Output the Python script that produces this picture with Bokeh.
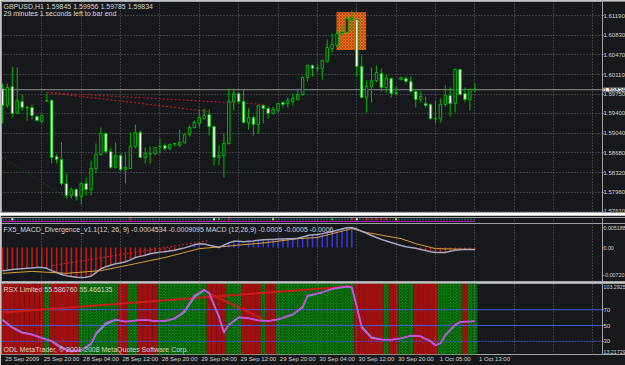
from bokeh.plotting import figure
from bokeh.layouts import column
from bokeh.models import (Range1d, FixedTicker, Span, Label, NumeralTickFormatter,
                          ColumnDataSource, Grid, BoxAnnotation)
from bokeh.embed import file_html
from bokeh.resources import INLINE

# ---------------- data ----------------
header_text = "GBPUSD,H1  1.59845 1.59956 1.59785 1.59834"
header_text2 = "29 minutes 1 seconds left to bar end"
macd_title = "FX5_MACD_Divergence_v1.1(12, 26, 9) -0.0004534 -0.0009095   MACD (12,26,9) -0.0005 -0.0005 -0.0006"
rsi_title = "RSX Limited 55.586760 55.466135"
copyright_text = "ODL MetaTrader, \u00a9 2001-2008 MetaQuotes Software Corp."

time_labels = ["25 Sep 2009", "25 Sep 20:00", "28 Sep 04:00", "28 Sep 12:00", "28 Sep 20:00",
               "29 Sep 04:00", "29 Sep 12:00", "29 Sep 20:00", "30 Sep 04:00", "30 Sep 12:00",
               "30 Sep 20:00", "1 Oct 05:00", "1 Oct 13:00"]

opens = [1.59856, 1.59545, 1.59892, 1.59399, 1.59618, 1.59509, 1.59509, 1.59344, 1.59253, 1.59637,
         1.59637, 1.58613, 1.58558, 1.58120, 1.57901, 1.58010, 1.57882, 1.58120, 1.58010, 1.58394,
         1.58650, 1.59034, 1.58705, 1.58412, 1.58632, 1.58376, 1.58394, 1.58796, 1.59052, 1.58595,
         1.58668, 1.58668, 1.58796, 1.58814, 1.58760, 1.58851, 1.58814, 1.58869, 1.59015, 1.59143,
         1.59216, 1.59308, 1.59381, 1.59162, 1.58595, 1.58632, 1.58851, 1.59618, 1.59765, 1.59618,
         1.59235, 1.59326, 1.59198, 1.59545, 1.59490, 1.59399, 1.59454, 1.59600, 1.59582, 1.59618,
         1.59655, 1.59746, 1.60057, 1.60276, 1.60221, 1.60221, 1.60349, 1.60587, 1.60642, 1.60861,
         1.60879, 1.61117, 1.61117, 1.60258, 1.59691, 1.59892, 1.60002, 1.60130, 1.59874, 1.60039,
         1.59765, 1.60020, 1.60039, 1.59984, 1.59801, 1.59655, 1.59582, 1.59564, 1.59308, 1.59308,
         1.59564, 1.59728, 1.59582, 1.60203, 1.59765, 1.59655, 1.59845]
highs = [1.59947, 1.59947, 1.60258, 1.60240, 1.59746, 1.59545, 1.59564, 1.59362, 1.59399, 1.59765,
         1.59655, 1.58650, 1.58869, 1.58303, 1.58046, 1.58028, 1.58138, 1.58230, 1.58540, 1.58851,
         1.59143, 1.59052, 1.58778, 1.58869, 1.58668, 1.58668, 1.59052, 1.59198, 1.59088, 1.58778,
         1.58796, 1.58778, 1.58942, 1.58851, 1.58851, 1.58869, 1.59107, 1.59034, 1.59180, 1.59271,
         1.59472, 1.59490, 1.59472, 1.59180, 1.58814, 1.59034, 1.59856, 1.59856, 1.59783, 1.59838,
         1.59490, 1.59362, 1.59545, 1.59564, 1.59527, 1.59527, 1.59582, 1.59618, 1.59691, 1.59765,
         1.59856, 1.60075, 1.60294, 1.60294, 1.60312, 1.60386, 1.60751, 1.60861, 1.60952, 1.61007,
         1.61190, 1.61281, 1.61135, 1.60459, 1.60002, 1.60240, 1.60276, 1.60221, 1.60120, 1.60057,
         1.59892, 1.60075, 1.60075, 1.60075, 1.59838, 1.59801, 1.59710, 1.59582, 1.59637, 1.59673,
         1.59911, 1.59874, 1.60221, 1.60221, 1.59874, 1.59856, 1.59956]
lows = [1.59216, 1.59509, 1.59326, 1.59399, 1.59454, 1.59271, 1.59289, 1.59253, 1.59216, 1.59618,
        1.58485, 1.58485, 1.58083, 1.57846, 1.57846, 1.57809, 1.57736, 1.57901, 1.57901, 1.58303,
        1.58632, 1.58668, 1.58394, 1.58394, 1.58339, 1.58120, 1.58394, 1.58760, 1.58577, 1.58485,
        1.58485, 1.58632, 1.58668, 1.58723, 1.58723, 1.58796, 1.58796, 1.58851, 1.58979, 1.59125,
        1.59143, 1.59289, 1.58997, 1.58449, 1.58449, 1.58230, 1.58833, 1.59454, 1.59582, 1.59216,
        1.59107, 1.58997, 1.59034, 1.59216, 1.59308, 1.59381, 1.59417, 1.59509, 1.59509, 1.59545,
        1.59637, 1.59728, 1.59984, 1.60075, 1.60148, 1.60020, 1.60331, 1.60514, 1.60605, 1.60825,
        1.60861, 1.60916, 1.60075, 1.59691, 1.59417, 1.59600, 1.59966, 1.59801, 1.59783, 1.59691,
        1.59746, 1.60002, 1.59947, 1.59783, 1.59509, 1.59600, 1.59509, 1.59289, 1.59216, 1.59235,
        1.59527, 1.59344, 1.59417, 1.59728, 1.59600, 1.59454, 1.59785]
closes = [1.59545, 1.59874, 1.59399, 1.59637, 1.59509, 1.59500, 1.59362, 1.59271, 1.59362, 1.59628,
          1.58595, 1.58558, 1.58120, 1.57901, 1.58010, 1.57882, 1.58120, 1.58010, 1.58394, 1.58650,
          1.59034, 1.58705, 1.58412, 1.58632, 1.58376, 1.58412, 1.58796, 1.59052, 1.58595, 1.58668,
          1.58660, 1.58778, 1.58790, 1.58760, 1.58833, 1.58845, 1.58869, 1.59015, 1.59143, 1.59235,
          1.59326, 1.59362, 1.59162, 1.58595, 1.58632, 1.58851, 1.59618, 1.59765, 1.59618, 1.59235,
          1.59326, 1.59198, 1.59545, 1.59490, 1.59399, 1.59472, 1.59582, 1.59564, 1.59637, 1.59673,
          1.59746, 1.60057, 1.60276, 1.60221, 1.60230, 1.60368, 1.60605, 1.60660, 1.60861, 1.60898,
          1.61135, 1.61153, 1.60258, 1.59691, 1.59892, 1.60002, 1.60148, 1.59874, 1.60039, 1.59765,
          1.59783, 1.60057, 1.59984, 1.59801, 1.59655, 1.59710, 1.59545, 1.59308, 1.59300, 1.59564,
          1.59728, 1.59582, 1.60203, 1.59746, 1.59655, 1.59838, 1.59834]

price_ticks = [1.6119, 1.6083, 1.6047, 1.6011, 1.5975, 1.5940, 1.5904, 1.5868, 1.5832, 1.5796, 1.5761]
last_price = 1.59834

# user objects on the price chart
box_x = [67.9, 73.9]
box_price = [1.6056, 1.6125]
trend1_x = [9, 42]
trend1_p = [1.59783, 1.59436]
trend2_x = [9, 53]
trend2_p = [1.59783, 1.59564]
trend3_x = [0, 13]
trend3_p = [1.58595, 1.57864]

# FX5 MACD divergence (one value per bar)
macd = [-0.0060, -0.0059, -0.0057, -0.0056, -0.0055, -0.0054, -0.0053, -0.0052, -0.0052, -0.0054,
        -0.0060, -0.0065, -0.0070, -0.0073, -0.0075, -0.0077, -0.0078, -0.0077, -0.0074, -0.0065,
        -0.0055, -0.0050, -0.0046, -0.0042, -0.0040, -0.0037, -0.0032, -0.0026, -0.0023, -0.0020,
        -0.0016, -0.0014, -0.0012, -0.0011, -0.0009, -0.0007, -0.0004, -0.0001, 0.0003, 0.0007,
        0.0010, 0.0009, 0.0006, 0.0003, 0.0000, 0.0006, 0.0012, 0.0016, 0.0016, 0.0015,
        0.0016, 0.0017, 0.0019, 0.0020, 0.0021, 0.0021, 0.0022, 0.0022, 0.0023, 0.0023,
        0.0024, 0.0027, 0.0031, 0.0033, 0.0034, 0.0036, 0.0039, 0.0041, 0.0045, 0.0048,
        0.0051, 0.0052, 0.0048, 0.0042, 0.0037, 0.0031, 0.0026, 0.0021, 0.0017, 0.0013,
        0.0009, 0.0005, 0.0002, 0.0000, -0.0002, -0.0005, -0.0008, -0.0011, -0.0013, -0.0013,
        -0.0013, -0.0010, -0.0007, -0.0006, -0.0005, -0.0005, -0.0005]
signal_x = [0, 6, 13, 20, 27, 33, 40, 47, 54, 60, 64, 71, 74, 81, 84, 88, 96]
signal_v = [-0.0067, -0.0062, -0.0067, -0.0060, -0.0042, -0.0026, -0.0003, 0.0005, 0.0013, 0.0023,
            0.0026, 0.0049, 0.0039, 0.0023, 0.0010, -0.0003, -0.0005]
div_x = [10, 42]
div_v = [-0.0047, 0.0018]
macd_ticks = [0.005188, 0.0, -0.0072]
macd_tick_text = ["0.005188", "0.00", "-0.00720"]

# small signal strip
strip_x = [2, 26, 43, 44, 46, 55, 67, 71, 72, 74, 75, 76, 77, 78, 80]
strip_c = ["#f0f0f0", "#e02020", "#f0f0f0", "#20c020", "#e02020", "#e0e020", "#20c020", "#e02020",
           "#f0f0f0", "#e02020", "#e02020", "#e02020", "#e02020", "#e02020", "#e0e020"]

# RSX
rsx_x = [0, 2, 4, 6, 8, 10, 12, 14, 16, 18, 19, 21, 23, 25, 27, 29, 31, 33, 35, 37,
         39, 41, 42, 44, 45, 46, 48, 50, 52, 54, 56, 59, 61, 62, 65, 67, 70, 71, 72, 73,
         75, 77, 79, 81, 83, 85, 87, 88, 89, 90, 92, 93, 96]
rsx_v = [56.5, 46.9, 40.4, 38.3, 33.9, 29.6, 20.9, 16.6, 18.8, 27.4, 40.4, 53.4, 57.8, 54.7, 56.5,
         57.3, 55.6, 55.6, 59.1, 68.6, 88.1, 95.5, 90.3, 59.9, 40.4, 51.3, 60.8, 59.1, 56.5, 55.6,
         57.8, 64.3, 74.0, 88.1, 92.3, 96.7, 99.7, 98.0, 72.9, 46.9, 33.9, 31.8, 31.8, 33.9, 37.4,
         36.1, 29.6, 24.4, 27.4, 38.3, 51.3, 54.7, 55.5]
rsx_sig = [57.5, 48.0, 41.5, 38.8, 34.5, 30.5, 22.5, 17.8, 18.5, 26.0, 38.5, 51.5, 57.0, 55.2, 56.2,
           57.0, 55.8, 55.7, 58.5, 67.0, 86.0, 94.5, 91.5, 62.0, 42.0, 50.5, 60.0, 59.3, 56.8, 55.8,
           57.5, 63.5, 73.0, 87.0, 92.0, 96.2, 99.2, 98.5, 75.0, 49.0, 35.0, 32.5, 32.0, 33.6, 37.0,
           36.3, 30.5, 25.5, 27.0, 37.5, 50.5, 54.3, 55.4]
rsi_red1_x = [0, 65, 71]
rsi_red1_v = [66.4, 97.1, 99.7]
rsi_red2_x = [42, 53]
rsi_red2_v = [90.6, 58.2]
rsi_levels = [70, 50, 30]
rsi_max = 103.2925
rsi_min = 13.21729
band_state = ("RRRRRRRRR" + "G" + "RRRRRR" + "GGGGGGGG" + "RR" + "GG" + "RRRR" + "GGGGGGGGGG" +
              "RRRR" + "GGG" + "RRRR" + "G" + "RR" + "GGGGGGGGGGGGGGGG" + "RRRRRR" + "G" + "RR" +
              "GGG" + "RRRRR" + "GGGGG" + "R" + "GG")

# ---------------- style ----------------
BG = "#16181b"
GRID = "#676c74"
TXT = "#d4d4d4"
FONT = "Liberation Sans Narrow, Liberation Sans, sans-serif"
FS = "7px"
AXFS = "6px"
SMALLFS = "5.3px"
DATEFS = "6px"
GREEN = "#00b800"
OUTLINE = "#a0a4a8"

n = len(opens)
idx = list(range(n))
bar_step = 8
grid_x = list(range(bar_step, 121, bar_step))
XS, XE = -0.2033, 126.83      # frame covers the whole window width
AX = 121.95                    # where the price scale sits
xr = Range1d(XS, XE)


def make(fh, yr, top, bottom, xaxis=False, yaxis=True, axfs=AXFS):
    p = figure(frame_width=625, frame_height=fh, x_range=xr, y_range=yr,
               output_backend="svg", toolbar_location=None,
               x_axis_location="below" if xaxis else None,
               y_axis_location="right" if yaxis else None,
               min_border_left=1, min_border_right=0, min_border_top=top,
               min_border_bottom=bottom, background_fill_color=BG, border_fill_color=BG,
               outline_line_color=OUTLINE, outline_line_width=1)
    p.grid.visible = False
    g = Grid(dimension=0, ticker=FixedTicker(ticks=grid_x), grid_line_color=GRID,
             grid_line_dash="1 2", grid_line_alpha=0.9)
    p.add_layout(g, "center")
    if yaxis:
        ax = p.yaxis[0]
        ax.fixed_location = AX
        ax.axis_line_color = OUTLINE
        ax.major_tick_line_color = "#b8b8b8"
        ax.major_tick_out = 1
        ax.major_tick_in = 0
        ax.minor_tick_line_color = None
        ax.major_label_text_font = FONT
        ax.major_label_text_font_size = axfs
        ax.major_label_text_color = TXT
        ax.major_label_standoff = 0
    return p, g


def txt(p, x, y, text, baseline="top", yoff=0, xoff=2, color=TXT, bg=None, size=FS):
    lab = Label(x=x, y=y, text=text, text_font=FONT, text_font_size=size, text_color=color,
                text_baseline=baseline, x_offset=xoff, y_offset=yoff,
                background_fill_color=bg)
    p.add_layout(lab)
    return lab


# ---------------- main price pane ----------------
p1, g1 = make(211, Range1d(1.5759, 1.61446), top=1, bottom=1)
p1.yaxis[0].ticker = FixedTicker(ticks=price_ticks)
p1.yaxis[0].formatter = NumeralTickFormatter(format="0.00000")
p1.add_layout(Grid(dimension=1, ticker=FixedTicker(ticks=price_ticks), grid_line_color=GRID,
                   grid_line_dash="1 2", grid_line_alpha=0.9), "center")
p1.add_layout(Span(location=last_price, dimension="width", line_color="#8e8e8e", line_width=1,
                   level="underlay"))
p1.add_layout(BoxAnnotation(left=AX, fill_color=BG, fill_alpha=1.0, line_color=None,
                            level="glyph"))

p1.quad(left=[box_x[0]], right=[box_x[1]], bottom=[box_price[0]], top=[box_price[1]],
        fill_color="#e5721b", line_color=None, hatch_pattern="x", hatch_color="#b03808",
        hatch_scale=3, hatch_alpha=0.7)
p1.line(trend3_x, trend3_p, line_color="#0d5a0d", line_width=1, line_dash="1 2")
p1.line(trend1_x, trend1_p, line_color="#c02020", line_width=1, line_dash="2 2")
p1.line(trend2_x, trend2_p, line_color="#b02030", line_width=1, line_dash="2 2")

src = ColumnDataSource(dict(
    x=idx, h=highs, l=lows,
    top=[max(o, c) for o, c in zip(opens, closes)],
    bot=[min(o, c) for o, c in zip(opens, closes)],
    fill=[BG if c >= o else "#ffffff" for o, c in zip(opens, closes)],
))
p1.segment(x0="x", y0="l", x1="x", y1="h", source=src, line_color=GREEN, line_width=1)
p1.vbar(x="x", width=0.5, top="top", bottom="bot", fill_color="fill", line_color=GREEN,
        line_width=1, source=src)

txt(p1, XS, 1.61446, header_text, yoff=-1)
txt(p1, XS, 1.61446, header_text2, yoff=-8)
txt(p1, AX, last_price, "{:.5f}".format(last_price), baseline="middle", xoff=1,
    color="#000000", bg="#ffffff", size=AXFS)

# ---------------- strip pane ----------------
p2, g2 = make(7, Range1d(0, 1), top=2, bottom=1, yaxis=False)
p2.line([0, n - 1], [0.45, 0.45], line_color="#c020c0", line_width=1)
p2.line([0, n - 1], [0.75, 0.75], line_color="#30b8d8", line_width=1, line_dash="1 2")
p2.scatter(strip_x, [0.75] * len(strip_x), marker="square", size=2,
           fill_color=strip_c, line_color=None)
p2.add_layout(Span(location=AX, dimension="height", line_color=OUTLINE, line_width=1))

# ---------------- MACD pane ----------------
p3, g3 = make(58, Range1d(-0.00882, 0.006226), top=0, bottom=1, axfs=SMALLFS)
p3.yaxis[0].ticker = FixedTicker(ticks=macd_ticks)
p3.yaxis[0].major_label_overrides = dict(zip(macd_ticks, macd_tick_text))
red_x, red_v, blue_x, blue_v = [], [], [], []
for k, v in enumerate(macd):
    prev = macd[k - 1] if k else v
    if v < 0:
        red_x.append(k)
        red_v.append(v)
    elif v >= prev:
        blue_x.append(k)
        blue_v.append(v)
p3.vbar(x=red_x, top=red_v, bottom=0, width=0.3, fill_color="#c81c1c", line_color=None)
p3.vbar(x=blue_x, top=blue_v, bottom=0, width=0.3, fill_color="#3a3ae0", line_color=None)
p3.line(div_x, div_v, line_color="#d02828", line_width=1, line_dash="2 2")
p3.line(signal_x, signal_v, line_color="#d8a038", line_width=1)
p3.line(idx, macd, line_color="#a6a6bc", line_width=1.5)
txt(p3, XS, 0.006226, macd_title, yoff=-2)

# ---------------- RSX pane ----------------
p4, g4 = make(71, Range1d(rsi_min, rsi_max), top=1, bottom=11, xaxis=True)
g4.level = "overlay"
p4.yaxis[0].ticker = FixedTicker(ticks=rsi_levels)
band_fill = ["#0b7f0b" if s == "G" else "#9e1010" for s in band_state]
band_hatch = ["x" if s == "G" else " " for s in band_state]
p4.vbar(x=idx, width=1.0, top=rsi_max, bottom=rsi_min, fill_color=band_fill, line_color=None,
        hatch_pattern=band_hatch, hatch_color="#04400a", hatch_scale=3, hatch_alpha=0.55)
for lv in rsi_levels:
    p4.line([XS, AX], [lv, lv], line_color="#4657dc", line_width=1,
            line_dash="solid" if lv != 30 else "2 1")
p4.line(rsi_red1_x, rsi_red1_v, line_color="#c81c1c", line_width=2)
p4.line(rsi_red2_x, rsi_red2_v, line_color="#c81c1c", line_width=2)
p4.line(rsx_x, rsx_sig, line_color="#38b8c8", line_width=1.5)
p4.line(rsx_x, rsx_v, line_color="#e040e8", line_width=1.5)
txt(p4, XS, rsi_max, rsi_title, yoff=-2)
txt(p4, XS, rsi_min, copyright_text, baseline="bottom", yoff=2)
txt(p4, AX, rsi_max, "{:.4f}".format(rsi_max), baseline="top", xoff=1, yoff=-1, size=SMALLFS)
txt(p4, AX, rsi_min, "{:.5f}".format(rsi_min), baseline="bottom", xoff=1, yoff=1, size=SMALLFS)

xa = p4.xaxis[0]
label_pos = [k * bar_step + 4 for k in range(len(time_labels))]
xa.ticker = FixedTicker(ticks=label_pos)
xa.major_label_overrides = dict(zip(label_pos, time_labels))
xa.axis_line_color = None
xa.major_tick_line_color = None
xa.major_tick_out = 0
xa.major_tick_in = 0
xa.minor_tick_line_color = None
xa.minor_tick_out = 0
xa.major_label_text_font = FONT
xa.major_label_text_font_size = DATEFS
xa.major_label_text_color = TXT
xa.major_label_standoff = 1

layout = column(p1, p2, p3, p4, spacing=0)
open("out.html", "w").write(file_html(layout, INLINE))
